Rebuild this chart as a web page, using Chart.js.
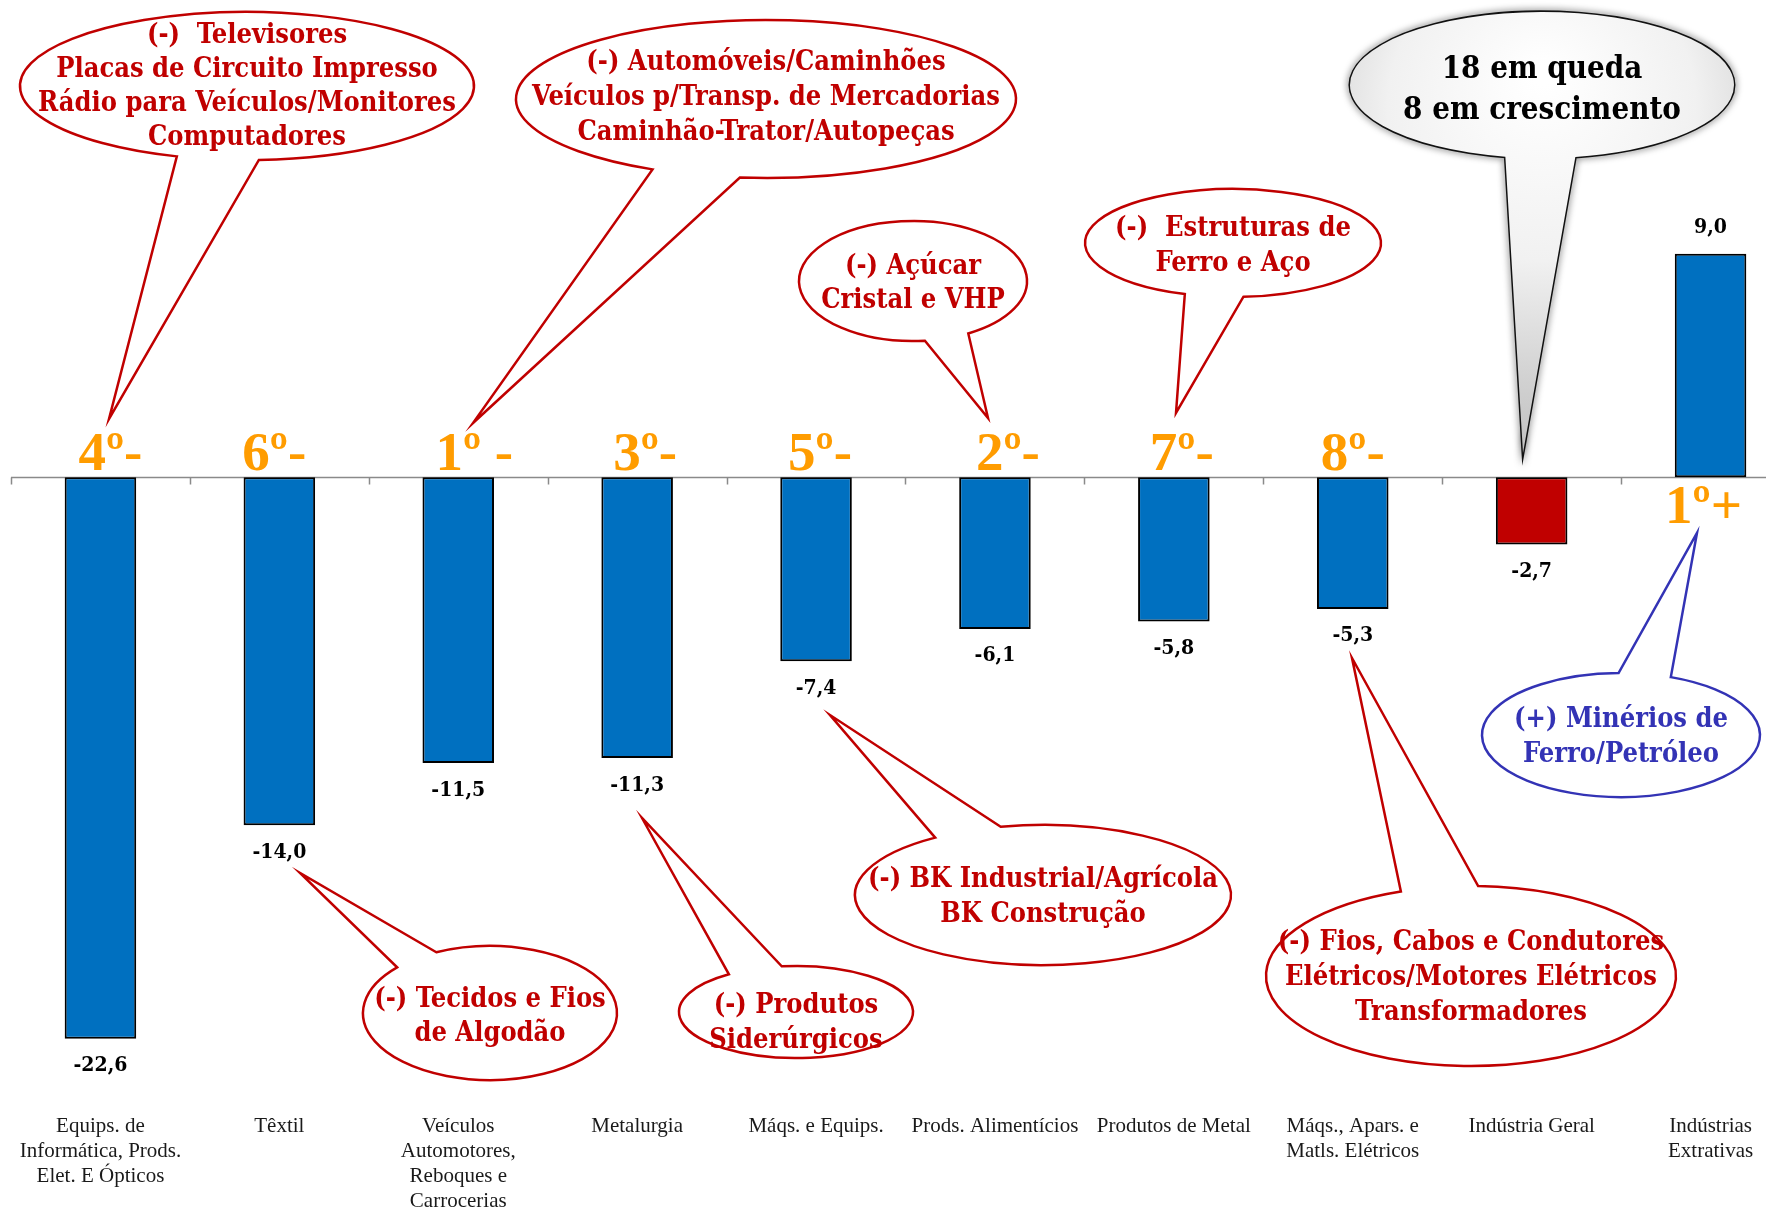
<!DOCTYPE html>
<html lang="pt">
<head>
<meta charset="utf-8">
<script src="https://cdn.jsdelivr.net/npm/chart.js@4.4.1/dist/chart.umd.min.js"></script>
<style>
  html, body { margin: 0; padding: 0; background: #fff; overflow: hidden; }
  #wrap { position: absolute; left: 0; top: 0; width: 1800px; height: 1210px; }
</style>
</head>
<body>
<div id="wrap"><canvas id="grafico" width="1800" height="1210"></canvas></div>
<script>
// Dados do gráfico
const setores = [
  ['Equips. de', 'Informática, Prods.', 'Elet. E Ópticos'],
  'Têxtil',
  ['Veículos', 'Automotores,', 'Reboques e', 'Carrocerias'],
  'Metalurgia',
  'Máqs. e Equips.',
  'Prods. Alimentícios',
  'Produtos de Metal',
  ['Máqs., Apars. e', 'Matls. Elétricos'],
  'Indústria Geral',
  ['Indústrias', 'Extrativas']
];
const variacao = [-22.6, -14.0, -11.5, -11.3, -7.4, -6.1, -5.8, -5.3, -2.7, 9.0];
const ranking = ['4º-', '6º-', '1º -', '3º-', '5º-', '2º-', '7º-', '8º-', '', '1º+'];

// Textos dos balões
const balaoTelevisores = ['(-)  Televisores', 'Placas de Circuito Impresso', 'Rádio para Veículos/Monitores', 'Computadores'];
const balaoVeiculos = ['(-) Automóveis/Caminhões', 'Veículos p/Transp. de Mercadorias', 'Caminhão-Trator/Autopeças'];
const balaoAlimentos = ['(-) Açúcar', 'Cristal e VHP'];
const balaoMetal = ['(-)  Estruturas de', 'Ferro e Aço'];
const balaoResumo = ['18 em queda', '8 em crescimento'];
const balaoMaquinas = ['(-) BK Industrial/Agrícola', 'BK Construção'];
const balaoTextil = ['(-) Tecidos e Fios', 'de Algodão'];
const balaoMetalurgia = ['(-) Produtos', 'Siderúrgicos'];
const balaoEletricos = ['(-) Fios, Cabos e Condutores', 'Elétricos/Motores Elétricos', 'Transformadores'];
const balaoExtrativas = ['(+) Minérios de', 'Ferro/Petróleo'];

// Cores
const AZUL = '#0070C0';
const VERMELHO = '#C00000';
const LARANJA = '#FF9C00';
const AZUL_BALAO = '#3333B5';

// Posição dos balões (pixels)
const baloes = [
  { linhas: balaoTelevisores, cx: 247, cy: 86, rx: 227, ry: 74, a: [87, 108], ponta: [109, 419], y0: 36, dy: 34, cor: VERMELHO },
  { linhas: balaoVeiculos, cx: 766, cy: 99, rx: 250, ry: 79, a: [96, 117], ponta: [473, 423], y0: 63, dy: 35, cor: VERMELHO },
  { linhas: balaoAlimentos, cx: 913, cy: 281, rx: 114, ry: 60, a: [61, 84], ponta: [988, 418], y0: 267, dy: 34, cor: VERMELHO },
  { linhas: balaoMetal, cx: 1233, cy: 243, rx: 148, ry: 54, a: [86, 109], ponta: [1176, 413], y0: 229, dy: 35, cor: VERMELHO },
  { linhas: balaoMaquinas, cx: 1043, cy: 895, rx: 188, ry: 70, a: [235, 257], ponta: [830, 715], y0: 880, dy: 35, cor: VERMELHO },
  { linhas: balaoTextil, cx: 490, cy: 1013, rx: 127, ry: 67, a: [223, 245], ponta: [300, 873], y0: 1000, dy: 34, cor: VERMELHO },
  { linhas: balaoMetalurgia, cx: 796, cy: 1012, rx: 117, ry: 46, a: [235, 263], ponta: [642, 818], y0: 1006, dy: 35, cor: VERMELHO },
  { linhas: balaoEletricos, cx: 1471, cy: 976, rx: 205, ry: 90, a: [250, 272], ponta: [1352, 658], y0: 943, dy: 35, cor: VERMELHO },
  { linhas: balaoExtrativas, cx: 1621, cy: 735, rx: 139, ry: 62, a: [269, 291], ponta: [1697, 533], y0: 720, dy: 35, cor: AZUL_BALAO }
];
const resumo = { linhas: balaoResumo, cx: 1542, cy: 85, rx: 192, ry: 73, a: [80, 101], ponta: [1523, 453], y0: 70, dy: 41 };

// deslocamento horizontal dos rótulos de ranking
const rankDx = [10, -5, 16, 8, 4, 13, 8, 0, 0, -7];

const FONTE_BALAO = "bold 27px 'DejaVu Serif Condensed', 'DejaVu Serif', serif";

function formatar(v) {
  return (v < 0 ? '-' : '') + Math.abs(v).toFixed(1).replace('.', ',');
}

// Desenha o contorno do balão (elipse + ponta)
function caminhoBalao(ctx, b) {
  let t1 = b.a[0] * Math.PI / 180;
  let t2 = b.a[1] * Math.PI / 180;
  ctx.beginPath();
  ctx.ellipse(b.cx, b.cy, b.rx, b.ry, 0, t2, t1 + 2 * Math.PI);
  ctx.lineTo(b.ponta[0], b.ponta[1]);
  ctx.closePath();
}

// Eixo horizontal no zero com marcas
const eixoZero = {
  id: 'eixoZero',
  beforeDatasetsDraw(chart) {
    const ctx = chart.ctx;
    const x = chart.scales.x;
    const y0 = Math.round(chart.scales.y.getPixelForValue(0)) + 0.5;
    const passo = x.getPixelForValue(1) - x.getPixelForValue(0);
    ctx.save();
    ctx.strokeStyle = '#8a8a8a';
    ctx.lineWidth = 1.5;
    ctx.beginPath();
    ctx.moveTo(chart.chartArea.left, y0);
    ctx.lineTo(chart.chartArea.right, y0);
    for (let i = 0; i <= setores.length; i++) {
      const px = Math.round(x.getPixelForValue(0) - passo / 2 + i * passo) + 0.5;
      ctx.moveTo(px, y0);
      ctx.lineTo(px, y0 + 7);
    }
    ctx.stroke();
    ctx.restore();
  }
};

// Valores, ranking e balões
const anotacoes = {
  id: 'anotacoes',
  afterDatasetsDraw(chart) {
    const ctx = chart.ctx;
    const meta = chart.getDatasetMeta(0);
    const y0 = chart.scales.y.getPixelForValue(0);
    ctx.save();

    // valores das barras
    ctx.fillStyle = '#000';
    ctx.font = "bold 21px 'DejaVu Serif Condensed', 'DejaVu Serif', serif";
    ctx.textAlign = 'center';
    ctx.textBaseline = 'middle';
    meta.data.forEach((bar, i) => {
      const v = variacao[i];
      const y = v < 0 ? bar.y + 27 : bar.y - 26;
      ctx.fillText(formatar(v), bar.x, y);
    });

    // ranking
    ctx.fillStyle = LARANJA;
    ctx.font = "bold 55px 'Liberation Serif', 'Times New Roman', serif";
    ctx.textBaseline = 'alphabetic';
    meta.data.forEach((bar, i) => {
      if (!ranking[i]) return;
      const y = variacao[i] < 0 ? y0 - 7 : y0 + 46;
      ctx.fillText(ranking[i], bar.x + rankDx[i], y);
    });

    // balões vermelhos / azul
    baloes.forEach(b => {
      caminhoBalao(ctx, b);
      ctx.fillStyle = '#fff';
      ctx.fill();
      ctx.lineWidth = 2.5;
      ctx.strokeStyle = b.cor;
      ctx.stroke();
      ctx.fillStyle = b.cor;
      ctx.font = FONTE_BALAO;
      ctx.textBaseline = 'middle';
      b.linhas.forEach((t, k) => ctx.fillText(t, b.cx, b.y0 + k * b.dy));
    });

    // balão cinza de resumo
    const r = resumo;
    ctx.save();
    caminhoBalao(ctx, r);
    ctx.shadowColor = 'rgba(0,0,0,0.75)';
    ctx.shadowBlur = 7;
    ctx.lineWidth = 3;
    ctx.strokeStyle = '#111';
    ctx.stroke();
    ctx.restore();
    caminhoBalao(ctx, r);
    const g = ctx.createRadialGradient(r.cx, r.cy - 10, 10, r.cx, r.cy + 60, 330);
    g.addColorStop(0, '#ffffff');
    g.addColorStop(0.45, '#f1f1f1');
    g.addColorStop(0.75, '#d2d2d2');
    g.addColorStop(1, '#bcbcbc');
    ctx.fillStyle = g;
    ctx.fill();
    ctx.fillStyle = '#000';
    ctx.font = "bold 31px 'DejaVu Serif Condensed', 'DejaVu Serif', serif";
    ctx.textBaseline = 'middle';
    r.linhas.forEach((t, k) => ctx.fillText(t, r.cx, r.y0 + k * r.dy));

    ctx.restore();
  }
};

const ctx = document.getElementById('grafico').getContext('2d');
const grafico = new Chart(ctx, {
  type: 'bar',
  data: {
    labels: setores,
    datasets: [{
      data: variacao,
      backgroundColor: c => c.dataIndex === 8 ? VERMELHO : AZUL,
      borderColor: '#000',
      borderWidth: 2,
      borderSkipped: false,
      categoryPercentage: 1,
      barPercentage: 0.4
    }]
  },
  options: {
    responsive: false,
    animation: false,
    layout: { padding: { left: 11, right: 0, top: 5.3, bottom: 0 } },
    plugins: { legend: { display: false }, tooltip: { enabled: false } },
    scales: {
      x: {
        grid: { display: false, drawTicks: false },
        border: { display: false },
        ticks: {
          autoSkip: false,
          maxRotation: 0,
          minRotation: 0,
          padding: 15,
          color: '#1a1a1a',
          font: { family: "'Liberation Serif', 'Times New Roman', serif", size: 21, lineHeight: '25px' }
        },
        afterFit(scale) { scale.height = 111.5; }
      },
      y: {
        display: false,
        min: -25,
        max: 19
      }
    }
  },
  plugins: [eixoZero, anotacoes]
});
</script>
</body>
</html>
